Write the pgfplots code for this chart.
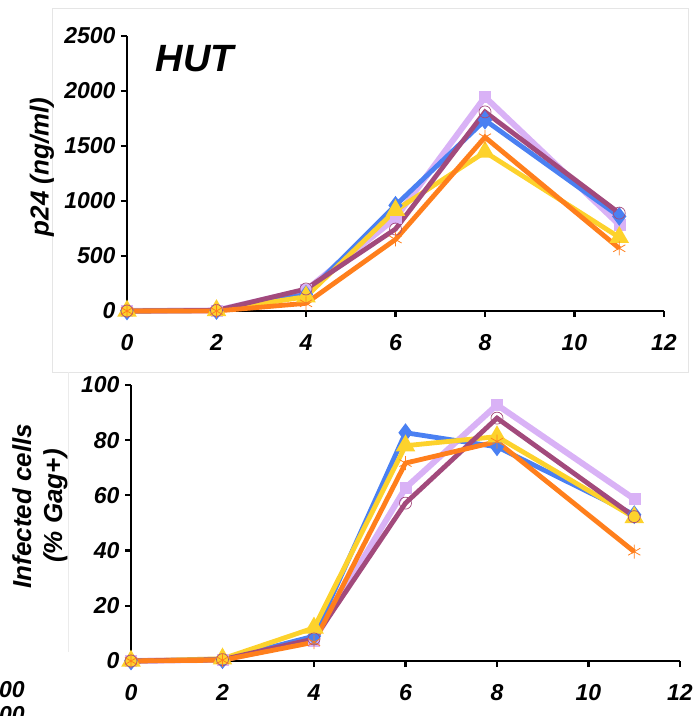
\documentclass[border=0pt]{standalone}
\usepackage{fontspec}
\setmainfont{Liberation Sans}
\usepackage{pgfplots}
\pgfplotsset{compat=1.18}
\definecolor{cblue}{HTML}{4A80F2}
\definecolor{cyellow}{HTML}{FDD22C}
\definecolor{clav}{HTML}{D9B2F6}
\definecolor{cpurple}{HTML}{A24A7C}
\definecolor{corange}{HTML}{FF7F1C}

\pgfplotsset{
  panel/.style={
    scale only axis,
    axis lines=left,
    axis line style={line width=2.8pt, -},
    tick style={line width=2.2pt, black},
    major tick length=6pt,
    tick align=outside,
    xmin=0, xmax=12, xtick={0,2,...,12},
    clip=false,
    /pgf/number format/assume math mode=true,
    ticklabel style={font=\fontsize{23}{23}\selectfont\bfseries\itshape},
    xticklabel style={yshift=-14pt},
    yticklabel style={xshift=-2pt},
    every axis plot/.append style={line width=4.8pt},
  },
  sblue/.style={cblue, mark=diamond*, mark size=5.5pt, mark options={solid}},
  syellow/.style={cyellow, mark=triangle*, mark size=6.5pt},
  slav/.style={clav, line width=6pt, mark=square*, mark size=5.5pt, mark options={line width=0.5pt}},
  spurple/.style={cpurple, mark=o, mark size=6pt, mark options={line width=0.7pt, fill=none}},
  sorange/.style={corange, mark=asterisk, mark size=7pt, mark options={line width=0.8pt}},
}

\begin{document}
\begin{tikzpicture}[x=1pt, y=1pt]
% faint frames from the source layout
\draw[black!10, line width=0.8pt] (52,708) rectangle (688,344);
\draw[black!8, line width=0.8pt] (68,344) -- (68,64);

% top panel: p24
\begin{axis}[panel,
  at={(127pt,405pt)}, anchor=south west,
  width=537pt, height=275pt,
  ymin=0, ymax=2500, ytick={0,500,...,2500},
  yticklabel style={/pgf/number format/1000 sep={}},
]
\addplot[slav] coordinates {(0,0) (2,5) (4,190) (6,845) (8,1945) (11,785)};
\addplot[sblue] coordinates {(0,0) (2,5) (4,150) (6,960) (8,1735) (11,860)};
\addplot[syellow] coordinates {(0,0) (2,5) (4,130) (6,915) (8,1445) (11,670)};
\addplot[spurple] coordinates {(0,0) (2,5) (4,200) (6,745) (8,1810) (11,890)};
\addplot[sorange] coordinates {(0,0) (2,0) (4,70) (6,650) (8,1580) (11,570)};
\end{axis}

% bottom panel: infected cells
\begin{axis}[panel,
  at={(131pt,55pt)}, anchor=south west,
  width=549pt, height=276pt,
  ymin=0, ymax=100, ytick={0,20,...,100},
]
\addplot[slav] coordinates {(0,0) (2,0.5) (4,7.5) (6,62.7) (8,92.8) (11,58.7)};
\addplot[sblue] coordinates {(0,0) (2,0.5) (4,9) (6,82.7) (8,77.6) (11,53)};
\addplot[syellow] coordinates {(0,0) (2,0.8) (4,12) (6,78) (8,81.3) (11,52)};
\addplot[spurple] coordinates {(0,0) (2,0.5) (4,8) (6,57.2) (8,88) (11,52.3)};
\addplot[sorange] coordinates {(0,0) (2,0.3) (4,6.8) (6,71.7) (8,79.5) (11,39.6)};
\end{axis}

% labels
\node[font=\fontsize{38}{38}\selectfont\bfseries\itshape, anchor=base] at (195,644) {HUT};
\node[font=\fontsize{26}{26}\selectfont\bfseries\itshape, rotate=90] at (42,549) {p24 (ng/ml)};
\node[font=\fontsize{26}{31}\selectfont\bfseries\itshape, rotate=90, align=center] at (40,210) {Infected cells\\(\% Gag+)};
% cut-off tick labels of a neighbouring panel
\node[font=\fontsize{23}{23}\selectfont\bfseries\itshape, anchor=base east, inner sep=0pt] at (25,19) {1000};
\node[font=\fontsize{23}{23}\selectfont\bfseries\itshape, anchor=base east, inner sep=0pt] at (25,-6) {1000};

\pgfresetboundingbox
\path (0,0) rectangle (697,716);
\end{tikzpicture}
\end{document}
